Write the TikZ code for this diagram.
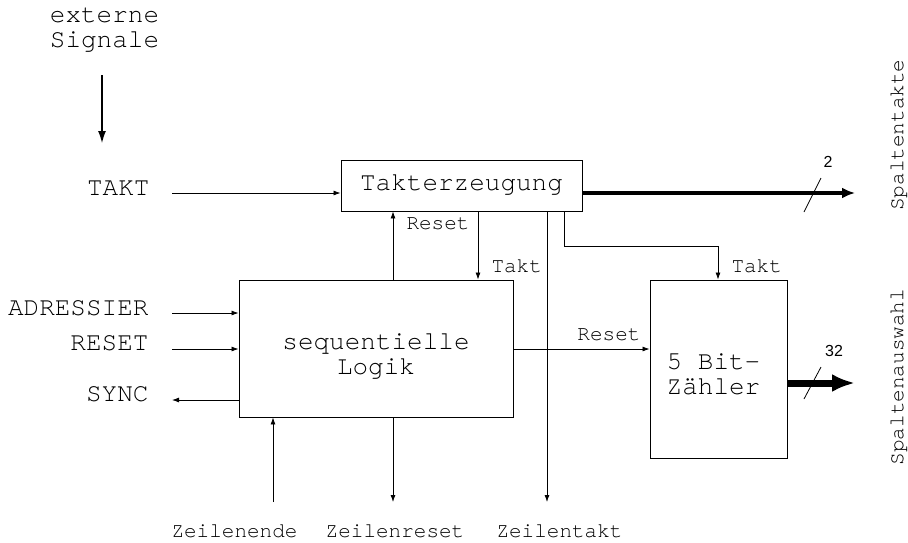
\documentclass[tikz,border=0pt]{standalone}
\usepackage{fontspec}
\setmonofont{TeX Gyre Cursor}
\newfontfamily\digitfont{Liberation Sans}
\usetikzlibrary{arrows.meta}
\begin{document}
\begin{tikzpicture}[x=1pt,y=-1pt,
  big/.style={font=\ttfamily\fontsize{26}{25}\selectfont},
  small/.style={font=\ttfamily\fontsize{21}{21}\selectfont},
  block/.style={draw, line width=0.9pt, inner sep=0pt},
  wire/.style={line width=0.8pt},
  sig/.style={wire, -{Latex[length=7pt,width=5pt]}},
  extsig/.style={line width=1.2pt, -{Latex[length=12pt,width=8pt]}},
  bus/.style={line width=3.5pt, -{Latex[length=13pt,width=11pt]}},
  widebus/.style={line width=7pt, -{Latex[length=23pt,width=18pt]}},
  buswidth/.style={font=\digitfont\fontsize{16}{16}\selectfont, inner sep=0pt}
]
\useasboundingbox (0,0) rectangle (908,542);

% blocks
\node[block, big, minimum width=241pt, minimum height=51pt] (tg) at (461.5,185.5) {Takterzeugung};
\node[block, minimum width=274pt, minimum height=137pt] (sl) at (376,348.5) {};
\node[big, align=center] (sltext) at ([yshift=-8pt]sl.center) {sequentielle\\Logik};
\node[block, minimum width=137pt, minimum height=178pt] (bz) at (718.5,369) {};
\node[big, align=center] (bztext) at ([xshift=-5pt,yshift=-5pt]bz.center) {5 Bit-\\Z\"ahler};

% external signals
\node[big, align=center] (ext) at (104.5,30) {externe\\Signale};
\coordinate (e1) at (102,75);
\coordinate (e2) at (102,143);
\draw[extsig] (e1) -- (e2);

% clock input
\node[big, anchor=base east] (takt) at (153,195) {TAKT};
\coordinate (taktin) at (172,193);
\draw[sig] (taktin) -- (taktin -| tg.west);

% inputs / outputs of the sequential logic
\node[big, anchor=base east] (adr) at (152,315) {ADRESSIER};
\node[big, anchor=base east] (rst) at (152,350) {RESET};
\node[big, anchor=base east] (sync) at (152,401) {SYNC};
\coordinate (adrin) at (172,313);
\coordinate (rstin) at (172,349);
\coordinate (syncout) at (172,400);
\draw[sig] (adrin) -- (adrin -| sl.west);
\draw[sig] (rstin) -- (rstin -| sl.west);
\draw[sig] (syncout -| sl.west) -- (syncout);

% between logic and clock generator
\coordinate (rx) at (393,0);
\coordinate (tx) at (478,0);
\draw[sig] (sl.north -| rx) -- (tg.south -| rx);
\node[small, anchor=base west] (lreset) at (403,229) {Reset};
\draw[sig] (tg.south -| tx) -- (sl.north -| tx);
\node[small, anchor=base west] (ltakt) at (488,272) {Takt};

% line signals
\coordinate (zende) at (273,502);
\coordinate (zreset) at (393,502);
\coordinate (ztakt) at (547,502);
\draw[sig] (zende) -- (sl.south -| zende);
\draw[sig] (sl.south -| zreset) -- (zreset);
\draw[sig] (tg.south -| ztakt) -- (ztakt);
\node[small, anchor=base] (lzende) at (234.5,537) {Zeilenende};
\node[small, anchor=base] (lzreset) at (395,537) {Zeilenreset};
\node[small, anchor=base] (lztakt) at (559.5,537) {Zeilentakt};

% clock to counter
\coordinate (cx) at (564,0);
\coordinate (bend) at (718,246);
\draw[sig] (tg.south -| cx) |- (bend) -- (bz.north -| bend);
\node[small, anchor=base west] (lctakt) at (728,272) {Takt};

% reset to counter
\coordinate (ry) at (0,349);
\draw[sig] (sl.east |- ry) -- (bz.west |- ry);
\node[small, anchor=base east] (lcreset) at (644,340) {Reset};

% column clocks (2 lines)
\coordinate (bus1) at (855,193);
\draw[bus] (tg.east |- bus1) -- (bus1);
\coordinate (s1a) at (804,212);
\coordinate (s1b) at (821,178);
\draw[wire] (s1a) -- (s1b);
\node[buswidth] (w1) at (828,162) {2};
\node[small, rotate=90] (lspt) at (899,135) {Spaltentakte};

% column select (32 lines)
\coordinate (bus2) at (855,383);
\draw[widebus] (bz.east |- bus2) -- (bus2);
\coordinate (s2a) at (804,399);
\coordinate (s2b) at (821,367);
\draw[wire] (s2a) -- (s2b);
\node[buswidth] (w2) at (834,351) {32};
\node[small, rotate=90] (lspa) at (899,377) {Spaltenauswahl};
\end{tikzpicture}
\end{document}
